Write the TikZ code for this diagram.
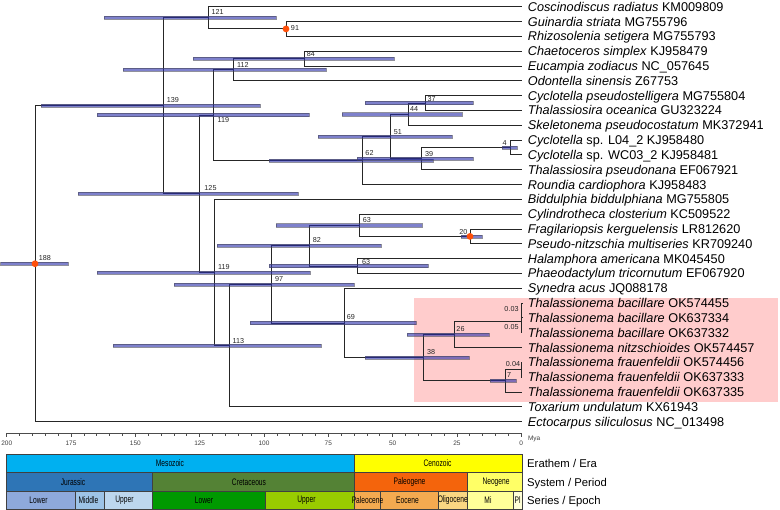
\documentclass[tikz,border=0pt]{standalone}
\usepackage{fontspec}
\setmainfont{Liberation Sans}
\newfontfamily\narrowfont[FakeStretch=0.7]{Liberation Sans}
\definecolor{hpdc}{RGB}{40,45,170}
\definecolor{hpde}{RGB}{70,70,90}
\definecolor{dotc}{RGB}{255,80,10}
\definecolor{pinkbg}{RGB}{255,204,204}
\definecolor{cMeso}{RGB}{0,176,240}
\definecolor{cCeno}{RGB}{255,255,0}
\definecolor{cJur}{RGB}{46,117,182}
\definecolor{cCre}{RGB}{84,130,53}
\definecolor{cPaleog}{RGB}{244,100,12}
\definecolor{cNeog}{RGB}{255,255,102}
\definecolor{cJL}{RGB}{142,169,219}
\definecolor{cJM}{RGB}{157,195,230}
\definecolor{cJU}{RGB}{189,215,238}
\definecolor{cKL}{RGB}{0,153,0}
\definecolor{cKU}{RGB}{153,204,0}
\definecolor{cPc}{RGB}{244,170,80}
\definecolor{cEo}{RGB}{244,170,80}
\definecolor{cOl}{RGB}{250,215,130}
\definecolor{cMi}{RGB}{255,255,153}
\definecolor{cPl}{RGB}{255,255,215}
\begin{document}
\begin{tikzpicture}[x=1pt,y=-1pt,
  br/.style={draw=black!85, line width=0.9pt},
  hpd/.style={fill=hpdc, draw=hpde, line width=0.4pt, opacity=0.6},
  nd/.style={circle, fill=dotc, inner sep=0pt, minimum size=6.8pt},
  nl/.style={font=\fontsize{7.2}{8}\selectfont, inner sep=0pt, text=black!85},
  tip/.style={anchor=base west, inner sep=0pt, xshift=6pt, yshift=-4.5pt, font=\fontsize{12.7}{14}\selectfont},
  axl/.style={font=\fontsize{6.5}{7}\selectfont, inner sep=0pt, text=black!75},
  axisline/.style={draw=black!70, line width=0.7pt},
  cell/.style={draw=black!75, line width=0.8pt},
  geo/.style={font=\narrowfont\fontsize{9.5}{10}\selectfont, inner sep=0pt},
  rowl/.style={anchor=base west, inner sep=0pt, font=\fontsize{11.3}{13}\selectfont}]
\useasboundingbox (0,0) rectangle (780,510);

% highlighted Thalassionema clade
\fill[pinkbg] (413.5,298.3) rectangle (777.5,401.7);

% tips
\foreach \i in {0,...,28} { \coordinate (t\i) at (521.7,{6.7+14.82*\i}); }

% internal nodes
\coordinate (root) at (35,263.73);
\coordinate (n139) at (163,105.8);
\coordinate (n121) at (208.3,17.82);
\coordinate (n91) at (286,28.93);
\coordinate (n125) at (199.5,193.78);
\coordinate (n119a) at (213.3,115.08);
\coordinate (n112) at (233.3,69.69);
\coordinate (n84) at (304,58.57);
\coordinate (n62) at (362.3,160.46);
\coordinate (n51) at (390.7,136.38);
\coordinate (n44) at (408.2,114.15);
\coordinate (n37) at (425,103.03);
\coordinate (n39) at (421.7,158.61);
\coordinate (n4) at (510.7,147.49);
\coordinate (n119b) at (214.2,272.47);
\coordinate (n113) at (229,345.59);
\coordinate (n97) at (271.7,284.34);
\coordinate (n82) at (309.3,245.67);
\coordinate (n63a) at (359.3,225.30);
\coordinate (n20) at (470,236.41);
\coordinate (n63b) at (357.7,266.05);
\coordinate (n69) at (344,323.01);
\coordinate (n38) at (423.3,357.75);
\coordinate (n26) at (454.3,334.59);
\coordinate (nb2) at (521.3,321.63);
\coordinate (nb1) at (521.5,310.51);
\coordinate (n7) at (505,380.9);
\coordinate (nf) at (521.4,369.79);

% branches
\foreach \p/\c in {root/n139, root/t28, n139/n121, n139/n125, n121/t0, n121/n91,
  n91/t1, n91/t2, n125/n119a, n125/n119b, n119a/n112, n119a/n62, n112/n84, n112/t5,
  n84/t3, n84/t4, n62/n51, n62/t12, n51/n44, n51/n39, n44/n37, n44/t8, n37/t6, n37/t7,
  n39/n4, n39/t11, n4/t9, n4/t10, n119b/t13, n119b/n113, n113/n97, n113/t27,
  n97/n82, n97/n69, n82/n63a, n82/n63b, n63a/t14, n63a/n20, n20/t15, n20/t16,
  n63b/t17, n63b/t18, n69/t19, n69/n38, n38/n26, n38/n7, n26/nb2, n26/t23,
  nb2/nb1, nb2/t22, nb1/t20, nb1/t21, n7/nf, n7/t26, nf/t24, nf/t25}
  { \draw[br] (\p) |- (\c); }

% 95% HPD bars
\foreach \a/\b/\y in {104.3/275.7/17.82, 192.7/394/58.57, 123.3/325.7/69.69,
  41/259.7/105.8, 96.7/309.3/115.08, 318.3/451.7/136.38, 269.3/433.3/160.46,
  365/473.3/103.03, 341.7/461.7/114.15, 357/472.7/158.61, 501.7/517.3/147.49,
  78.3/297.7/193.78, 0.5/67.7/263.73, 96.7/310/272.47, 174.3/354.3/284.34,
  217.3/381/245.67, 275.7/421.7/225.30, 269.3/428.3/266.05, 250/416/323.01,
  461/481.7/236.41, 113.3/320.7/345.59, 407.3/489.3/334.59, 365/469/357.75,
  490/515.7/380.9}
  { \filldraw[hpd] (\a,{\y-1.6}) rectangle (\b,{\y+1.6}); }

% calibration dots
\node[nd] (d188) at (root) {};
\node[nd] (d91) at (n91) {};
\node[nd] (d20) at (n20) {};

% node ages
\node[nl] (a121) at (217.7,12.2) {121};
\node[nl] (a91) at (295,28) {91};
\node[nl] (a84) at (310.8,54.2) {84};
\node[nl] (a112) at (242.8,64.8) {112};
\node[nl] (a139) at (172.8,99.8) {139};
\node[nl] (a119a) at (223.3,120) {119};
\node[nl] (a37) at (431.7,98.8) {37};
\node[nl] (a44) at (414.2,109.5) {44};
\node[nl] (a51) at (397.8,131.7) {51};
\node[nl] (a62) at (369.5,153.2) {62};
\node[nl] (a39) at (429.2,153.8) {39};
\node[nl] (a4) at (504.7,143) {4};
\node[nl] (a125) at (210.5,187.8) {125};
\node[nl] (a188) at (45,258.3) {188};
\node[nl] (a119b) at (223.8,266.7) {119};
\node[nl] (a82) at (316.8,240.2) {82};
\node[nl] (a63a) at (366.8,219.8) {63};
\node[nl] (a20) at (463.3,231.8) {20};
\node[nl] (a63b) at (366.2,261.8) {63};
\node[nl] (a97) at (279.2,279.3) {97};
\node[nl] (a69) at (350.8,317.5) {69};
\node[nl] (a113) at (238.3,340.8) {113};
\node[nl] (a26) at (460.5,329.2) {26};
\node[nl] (a38) at (431.2,352) {38};
\node[nl] (a003) at (511.5,309.3) {0.03};
\node[nl] (a005) at (511.5,326.7) {0.05};
\node[nl] (a004) at (513,364.2) {0.04};
\node[nl] (a7) at (509.2,374.8) {7};

% tip labels
\node[tip] (s0) at (t0) {\textit{Coscinodiscus radiatus} KM009809};
\node[tip] (s1) at (t1) {\textit{Guinardia striata} MG755796};
\node[tip] (s2) at (t2) {\textit{Rhizosolenia setigera} MG755793};
\node[tip] (s3) at (t3) {\textit{Chaetoceros simplex} KJ958479};
\node[tip] (s4) at (t4) {\textit{Eucampia zodiacus} NC\_057645};
\node[tip] (s5) at (t5) {\textit{Odontella sinensis} Z67753};
\node[tip] (s6) at (t6) {\textit{Cyclotella pseudostelligera} MG755804};
\node[tip] (s7) at (t7) {\textit{Thalassiosira oceanica} GU323224};
\node[tip] (s8) at (t8) {\textit{Skeletonema pseudocostatum} MK372941};
\node[tip] (s9) at (t9) {\textit{Cyclotella} sp. L04\_2 KJ958480};
\node[tip] (s10) at (t10) {\textit{Cyclotella} sp. WC03\_2 KJ958481};
\node[tip] (s11) at (t11) {\textit{Thalassiosira pseudonana} EF067921};
\node[tip] (s12) at (t12) {\textit{Roundia cardiophora} KJ958483};
\node[tip] (s13) at (t13) {\textit{Biddulphia biddulphiana} MG755805};
\node[tip] (s14) at (t14) {\textit{Cylindrotheca closterium} KC509522};
\node[tip] (s15) at (t15) {\textit{Fragilariopsis kerguelensis} LR812620};
\node[tip] (s16) at (t16) {\textit{Pseudo-nitzschia multiseries} KR709240};
\node[tip] (s17) at (t17) {\textit{Halamphora americana} MK045450};
\node[tip] (s18) at (t18) {\textit{Phaeodactylum tricornutum} EF067920};
\node[tip] (s19) at (t19) {\textit{Synedra acus} JQ088178};
\node[tip] (s20) at (t20) {\textit{Thalassionema bacillare} OK574455};
\node[tip] (s21) at (t21) {\textit{Thalassionema bacillare} OK637334};
\node[tip] (s22) at (t22) {\textit{Thalassionema bacillare} OK637332};
\node[tip] (s23) at (t23) {\textit{Thalassionema nitzschioides} OK574457};
\node[tip] (s24) at (t24) {\textit{Thalassionema frauenfeldii} OK574456};
\node[tip] (s25) at (t25) {\textit{Thalassionema frauenfeldii} OK637333};
\node[tip] (s26) at (t26) {\textit{Thalassionema frauenfeldii} OK637335};
\node[tip] (s27) at (t27) {\textit{Toxarium undulatum} KX61943};
\node[tip] (s28) at (t28) {\textit{Ectocarpus siliculosus} NC\_013498};

% time axis
\coordinate (ax200) at (6.7,433.3);
\coordinate (ax0) at (521.3,433.3);
\draw[axisline] (ax200) -- (ax0);
\foreach \t in {0,5,...,200} { \draw[axisline] ({521.3-2.573*\t},433.3) -- ++(0,2.5); }
\foreach \t in {0,25,...,200} {
  \draw[axisline] ({521.3-2.573*\t},433.3) -- ++(0,3.5);
  \node[axl] (tk\t) at ({521.3-2.573*\t},443.3) {\t};
}
\node[axl] (mya) at (534.2,438.8) {Mya};

% geological time scale
\path[cell, fill=cMeso] (6.7,454.3) rectangle (354,472.7);
\path[cell, fill=cCeno] (354,454.3) rectangle (522.3,472.7);
\path[cell, fill=cJur] (6.7,472.7) rectangle (152.3,491);
\path[cell, fill=cCre] (152.3,472.7) rectangle (354,491);
\path[cell, fill=cPaleog] (354,472.7) rectangle (467.7,491);
\path[cell, fill=cNeog] (467.7,472.7) rectangle (522.3,491);
\path[cell, fill=cJL] (6.7,491) rectangle (75.7,509.3);
\path[cell, fill=cJM] (75.7,491) rectangle (104.3,509.3);
\path[cell, fill=cJU] (104.3,491) rectangle (152.3,509.3);
\path[cell, fill=cKL] (152.3,491) rectangle (265.7,509.3);
\path[cell, fill=cKU] (265.7,491) rectangle (354,509.3);
\path[cell, fill=cPc] (354,491) rectangle (380.7,509.3);
\path[cell, fill=cEo] (380.7,491) rectangle (438.3,509.3);
\path[cell, fill=cOl] (438.3,491) rectangle (467.7,509.3);
\path[cell, fill=cMi] (467.7,491) rectangle (513.3,509.3);
\path[cell, fill=cPl] (513.3,491) rectangle (522.3,509.3);

\node[geo] (gMeso) at (170,463.5) {Mesozoic};
\node[geo] (gCeno) at (437.5,463.5) {Cenozoic};
\node[geo] (gJur) at (73,481.8) {Jurassic};
\node[geo] (gCre) at (249,481.8) {Cretaceous};
\node[geo] (gPaleog) at (409.5,481.8) {Paleogene};
\node[geo] (gNeog) at (496,481.8) {Neogene};
\node[geo] (gJL) at (38.5,500.2) {Lower};
\node[geo] (gJM) at (88.5,500.2) {Middle};
\node[geo] (gJU) at (124.5,500.2) {Upper};
\node[geo] (gKL) at (204,500.2) {Lower};
\node[geo] (gKU) at (306.5,500.2) {Upper};
\node[geo] (gPc) at (367.5,500.2) {Paleocene};
\node[geo] (gEo) at (407.5,500.2) {Eocene};
\node[geo] (gOl) at (452.8,500.2) {Oligocene};
\node[geo] (gMi) at (488,500.2) {Mi};
\node[geo] (gPl) at (517.6,500.2) {Pl};

\node[rowl] (rEra) at (527,467.5) {Erathem / Era};
\node[rowl] (rPer) at (527,486.8) {System / Period};
\node[rowl] (rEpo) at (527,504.8) {Series / Epoch};
\end{tikzpicture}
\end{document}
